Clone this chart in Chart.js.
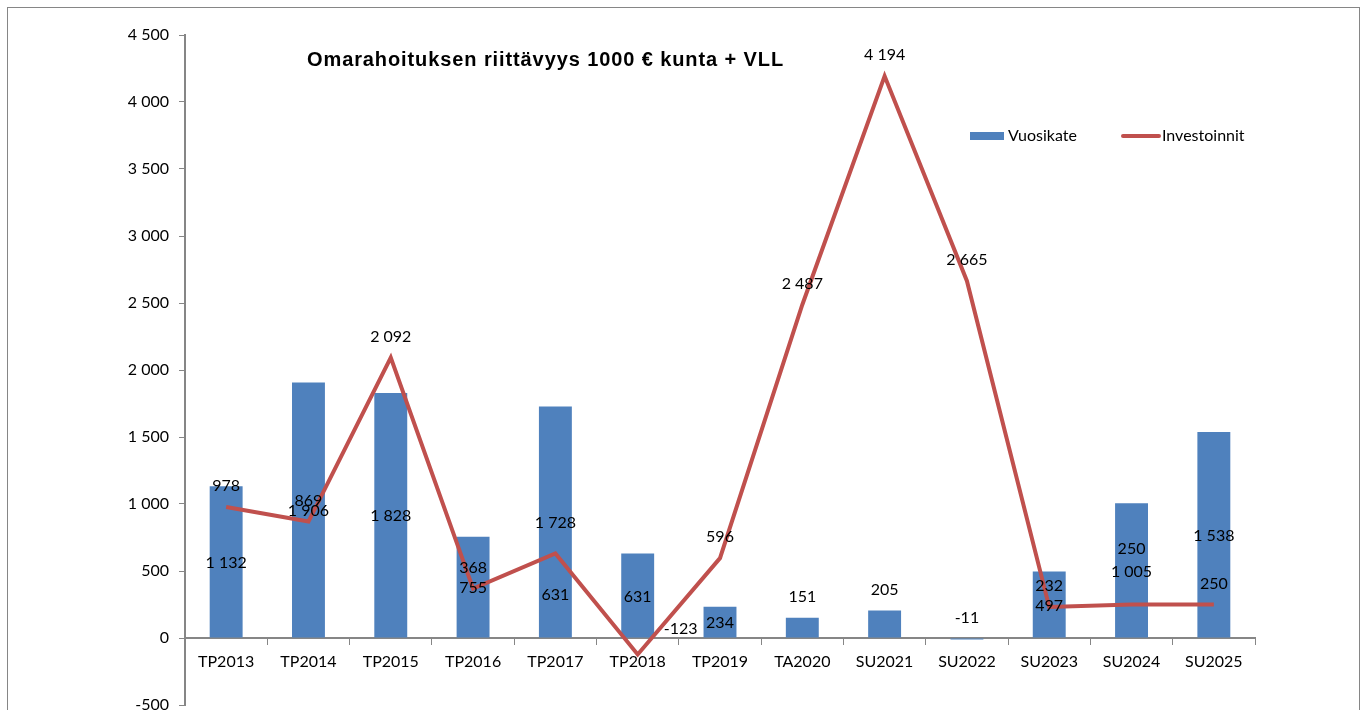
<!DOCTYPE html>
<html>
<head>
<meta charset="utf-8">
<script src="https://cdn.jsdelivr.net/npm/chart.js@4.4.1/dist/chart.umd.min.js"></script>
<style>
  html, body { margin: 0; padding: 0; background: #fff; overflow: hidden; }
  #wrap { position: relative; width: 1367px; height: 710px; }
</style>
</head>
<body>
<div id="wrap"><canvas id="chart"></canvas></div>
<script>
// data
const categories = ['TP2013', 'TP2014', 'TP2015', 'TP2016', 'TP2017', 'TP2018', 'TP2019', 'TA2020', 'SU2021', 'SU2022', 'SU2023', 'SU2024', 'SU2025'];
const vuosikate = [1132, 1906, 1828, 755, 1728, 631, 234, 151, 205, -11, 497, 1005, 1538];
const investoinnit = [978, 869, 2092, 368, 631, -123, 596, 2487, 4194, 2665, 232, 250, 250];

const chartTitle = 'Omarahoituksen riittävyys 1000 € kunta + VLL';
const FONT = 'Lato, "Noto Sans", sans-serif';
const BLUE = '#4F81BD';
const RED = '#C0504D';
const AXIS = '#868686';

function fmt(v) {
  return String(v).replace(/\B(?=(\d{3})+(?!\d))/g, ' ');
}

// frame, title and legend drawn like the excel original
const decorPlugin = {
  id: 'decor',
  beforeDraw(chart) {
    const ctx = chart.ctx;
    ctx.save();
    ctx.strokeStyle = AXIS;
    ctx.lineWidth = 1;
    ctx.strokeRect(7.5, 7.5, 1352, 760);
    ctx.restore();
  },
  afterDraw(chart) {
    const ctx = chart.ctx;
    const area = chart.chartArea;
    ctx.save();
    ctx.fillStyle = '#000';
    ctx.font = 'bold 20px "Liberation Sans", Arial, sans-serif';
    ctx.letterSpacing = '0.9px';
    ctx.textBaseline = 'middle';
    ctx.textAlign = 'left';
    ctx.fillText(chartTitle, area.left + 122, 60);
    ctx.letterSpacing = '0px';

    // legend
    const ly = 136;
    ctx.font = '16px ' + FONT;
    ctx.fillStyle = BLUE;
    ctx.fillRect(970, ly - 4, 34, 8);
    ctx.fillStyle = '#000';
    ctx.fillText(chart.data.datasets[0].label, 1008, ly);
    ctx.strokeStyle = RED;
    ctx.lineWidth = 4;
    ctx.lineCap = 'round';
    ctx.beginPath();
    ctx.moveTo(1123, ly);
    ctx.lineTo(1159, ly);
    ctx.stroke();
    ctx.fillText(chart.data.datasets[1].label, 1162, ly);
    ctx.restore();
  }
};

// value labels for both series
const labelPlugin = {
  id: 'valueLabels',
  afterDatasetsDraw(chart, args, opts) {
    const ctx = chart.ctx;
    ctx.save();
    ctx.font = '16px ' + FONT;
    ctx.fillStyle = '#000';
    ctx.textAlign = 'center';
    ctx.textBaseline = 'middle';

    const barMeta = chart.getDatasetMeta(0);
    barMeta.data.forEach((bar, i) => {
      const v = vuosikate[i];
      let y;
      if (Math.abs(v) < 220) {
        y = Math.min(bar.y, bar.base) - 21;
      } else {
        y = (bar.y + bar.base) / 2 + 1;
      }
      ctx.fillText(fmt(v), bar.x, y);
    });

    const lineMeta = chart.getDatasetMeta(1);
    lineMeta.data.forEach((pt, i) => {
      const off = opts.lineOffsets[i] || [0, -21];
      ctx.fillText(fmt(investoinnit[i]), pt.x + off[0], pt.y + off[1]);
    });
    ctx.restore();
  }
};

new Chart(document.getElementById('chart'), {
  type: 'bar',
  data: {
    labels: categories,
    datasets: [
      {
        type: 'bar',
        label: 'Vuosikate',
        data: vuosikate,
        backgroundColor: BLUE,
        barPercentage: 0.4,
        categoryPercentage: 1,
        order: 1
      },
      {
        type: 'line',
        label: 'Investoinnit',
        data: investoinnit,
        borderColor: RED,
        backgroundColor: RED,
        borderWidth: 4,
        tension: 0,
        pointRadius: 0,
        fill: false,
        order: 0
      }
    ]
  },
  options: {
    responsive: true,
    maintainAspectRatio: false,
    animation: false,
    layout: { padding: { left: 0, right: 112, top: 35, bottom: 5 } },
    plugins: {
      legend: { display: false },
      title: { display: false },
      tooltip: { enabled: false },
      valueLabels: {
        lineOffsets: { 4: [0, 41], 5: [43, -26], 11: [0, -56] }
      }
    },
    scales: {
      x: {
        position: { y: 0 },
        offset: true,
        grid: { offset: true, drawOnChartArea: false, drawTicks: true, tickLength: 6, color: AXIS },
        border: { display: true, color: AXIS, width: 2 },
        ticks: { color: '#000', font: { family: FONT, size: 16 }, padding: 8, maxRotation: 0 }
      },
      y: {
        min: -500,
        max: 4500,
        afterFit(scale) {
          scale.width = 185;
          scale.paddingTop = 0;
          scale.paddingBottom = 0;
        },
        grid: { drawOnChartArea: false, drawTicks: true, tickLength: 6, color: AXIS },
        border: { display: true, color: AXIS, width: 2 },
        ticks: {
          stepSize: 500,
          color: '#000',
          font: { family: FONT, size: 16 },
          padding: 10,
          callback: v => fmt(v)
        }
      }
    }
  },
  plugins: [decorPlugin, labelPlugin]
});
</script>
</body>
</html>
